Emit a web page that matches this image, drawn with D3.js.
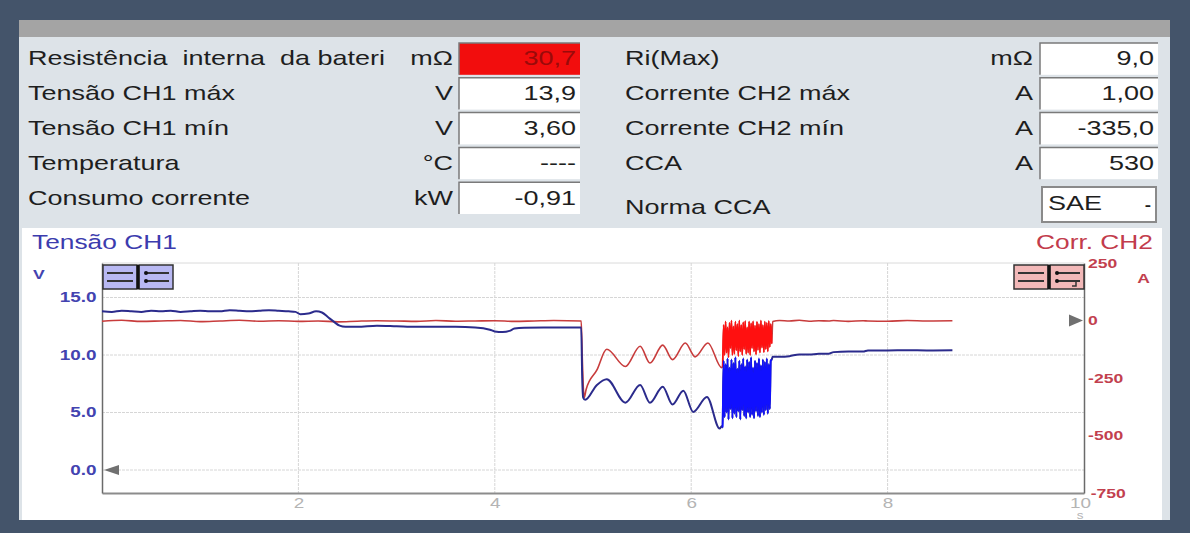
<!DOCTYPE html>
<html>
<head>
<meta charset="utf-8">
<script src="https://cdn.jsdelivr.net/npm/d3@7"></script>
<style>
  body { margin: 0; background: #44546a; }
  svg { display: block; font-family: "Liberation Sans", Arial, sans-serif; }
  text { white-space: pre; }
</style>
</head>
<body>
<div class="scope"></div>
<script>
// info panel
var leftLabels = ["Resistência  interna  da bateri", "Tensão CH1 máx", "Tensão CH1 mín", "Temperatura", "Consumo corrente"];
var leftUnits = ["mΩ", "V", "V", "°C", "kW"];
var leftValues = ["30,7", "13,9", "3,60", "----", "-0,91"];
var rightLabels = ["Ri(Max)", "Corrente CH2 máx", "Corrente CH2 mín", "CCA", "Norma CCA"];
var rightUnits = ["mΩ", "A", "A", "A", ""];
var rightValues = ["9,0", "1,00", "-335,0", "530", "SAE"];

// axes
var timeTicks = [2, 4, 6, 8, 10];
var voltTicks = [0, 5, 10, 15];
var currTicks = [-750, -500, -250, 0, 250];

// CH1 voltage (V) before the burst
var blueT = [0, 0.1, 0.2, 0.3, 0.4, 0.5, 0.6, 0.7, 0.8, 0.9, 1.0, 1.1, 1.2, 1.3, 1.4, 1.5, 1.6, 1.7, 1.8, 1.9,
  1.97, 2.02, 2.1, 2.18, 2.24, 2.3, 2.36, 2.42, 2.48, 2.6, 2.8, 3.0, 3.2, 3.4, 3.6, 3.8,
  3.95, 4.0, 4.08, 4.15, 4.2, 4.3, 4.5, 4.7, 4.88, 4.89, 4.9, 4.92, 5.04, 5.14,
  5.33, 5.48, 5.58, 5.71, 5.81, 5.92, 6.02, 6.16, 6.29, 6.31];
var blueV = [13.8, 13.75, 13.85, 13.8, 13.75, 13.85, 13.8, 13.85, 13.75, 13.8, 13.85, 13.8, 13.8, 13.9, 13.85, 13.8, 13.85, 13.9, 13.85, 13.8,
  13.75, 13.55, 13.6, 13.8, 13.7, 13.3, 12.9, 12.55, 12.45, 12.45, 12.55, 12.5, 12.45, 12.45, 12.45, 12.4,
  12.2, 12.05, 12.0, 12.1, 12.3, 12.38, 12.4, 12.4, 12.4, 8.0, 6.3, 6.1, 7.4, 7.9,
  5.85, 7.4, 5.85, 7.25, 5.7, 6.9, 5.05, 6.35, 3.6, 3.8];

// CH2 current (A) before the burst
var redT = [0, 0.2, 0.4, 0.6, 0.8, 1.0, 1.2, 1.4, 1.6, 1.8, 2.0, 2.2, 2.4, 2.6, 2.8, 3.0, 3.2, 3.4, 3.6, 3.8, 4.0, 4.2, 4.4, 4.6,
  4.88, 4.89, 4.90, 4.91, 4.93, 5.04, 5.14, 5.33, 5.48, 5.58, 5.71,
  5.81, 5.94, 6.04, 6.17, 6.31];
var redA = [-3, 1, -4, -2, 0, -5, -2, 1, -3, -1, -4, -2, -6, -3, -1, -2, -4, 0, -3, -2, -1, -4, -2, 0,
  -2, -150, -280, -335, -300, -215, -125, -200, -112, -185, -107,
  -170, -98, -158, -98, -205];

// fast oscillation burst
var burstT = [6.32, 6.33, 6.34, 6.35, 6.36, 6.37, 6.38, 6.39, 6.40, 6.41, 6.42, 6.43, 6.44, 6.45, 6.46, 6.47, 6.48,
  6.49, 6.50, 6.51, 6.52, 6.53, 6.54, 6.55, 6.56, 6.57, 6.58, 6.59, 6.60, 6.61, 6.62, 6.63, 6.64, 6.65,
  6.66, 6.67, 6.68, 6.69, 6.70, 6.71, 6.72, 6.73, 6.74, 6.75, 6.76, 6.77, 6.78, 6.79, 6.80, 6.81, 6.82];
var burstV = [3.7, 9.5, 4.6, 9.2, 5.0, 9.7, 4.4, 8.9, 5.3, 9.6, 4.5, 9.3, 4.9, 9.8, 4.6, 8.8, 5.1,
  9.5, 4.4, 9.2, 5.2, 9.7, 4.7, 9.0, 4.5, 9.6, 5.0, 9.4, 4.6, 9.8, 4.8, 8.9, 4.5, 9.5,
  5.1, 9.3, 4.7, 9.7, 4.6, 9.1, 5.0, 9.6, 4.8, 9.4, 5.2, 9.7, 4.9, 9.2, 5.3, 9.5, 9.6];
var burstA = [-200, -20, -150, -5, -140, -30, -160, -10, -120, 0, -150, -25, -145, -5, -130, -15, -155,
  0, -135, -20, -150, -8, -125, -2, -145, -30, -140, -5, -150, -12, -120, -3, -135, -22,
  -148, -6, -128, -15, -140, 0, -118, -20, -138, -5, -125, -10, -135, -2, -115, -15, -100];

// after the burst
var postT = [6.83, 6.9, 7.0, 7.1, 7.2, 7.3, 7.4, 7.45, 7.6, 7.75, 7.8, 8.0, 8.2, 8.4, 8.66];
var postV = [9.85, 9.85, 9.9, 10.05, 10.05, 10.1, 10.1, 10.25, 10.3, 10.3, 10.4, 10.4, 10.42, 10.4, 10.42];
var postA = [-4, 0, -2, 1, -3, -1, -2, 0, -4, -1, -2, -3, 0, -2, -1];

function init() {
  var w = 1190;
  var h = 533;
  var sx = 1.35; // screenshot is stretched horizontally

  var svg = d3.select(".scope")
    .append("svg")
    .attr("width", w)
    .attr("height", h);

  function label(g, x, y, str, anchor, size, color, weight) {
    return g.append("text")
      .attr("transform", "translate(" + x + "," + y + ") scale(" + sx + ",1)")
      .attr("text-anchor", anchor)
      .attr("font-size", size + "px")
      .attr("font-weight", weight || "normal")
      .attr("fill", color)
      .text(str);
  }

  // frame
  svg.append("rect").attr("width", w).attr("height", h).attr("fill", "#44546a");
  svg.append("rect").attr("x", 19).attr("y", 20).attr("width", 1151).attr("height", 500).attr("fill", "#dde3e8");
  svg.append("rect").attr("x", 19).attr("y", 20).attr("width", 1151).attr("height", 17).attr("fill", "#a4a4a4");
  svg.append("rect").attr("x", 22).attr("y", 228).attr("width", 1140).attr("height", 292).attr("fill", "#ffffff");

  // info rows
  var rowScale = d3.scaleBand()
    .domain(d3.range(5))
    .range([42, 216]);
  var step = rowScale.step();

  function valueBox(g, x, y, bw, bh, fill) {
    g.append("rect").attr("x", x).attr("y", y).attr("width", bw).attr("height", bh)
      .attr("fill", fill);
    g.append("path")
      .attr("d", "M" + x + "," + (y + bh) + "V" + y + "H" + (x + bw))
      .attr("fill", "none").attr("stroke", "#7a7a7a").attr("stroke-width", 1.5);
  }

  var info = svg.append("g");
  leftLabels.forEach(function(d, i) {
    var y0 = rowScale(i);
    var base = y0 + step / 2 + 6;
    label(info, 28, base, d, "start", 20, "#1e1e1e");
    label(info, 453, base, leftUnits[i], "end", 20, "#1e1e1e");
    var red = i === 0;
    valueBox(info, 459, y0 + 1, 121, step - 3, red ? "#f20d0d" : "#ffffff");
    label(info, 576, base, leftValues[i], "end", 20, red ? "#9a0a0a" : "#1e1e1e");
  });

  rightLabels.forEach(function(d, i) {
    var y0 = rowScale(i);
    var base = y0 + step / 2 + 6;
    if (rightUnits[i] === "") {
      // dropdown
      label(info, 625, 214, d, "start", 20, "#1e1e1e");
      info.append("rect").attr("x", 1042).attr("y", 187).attr("width", 114).attr("height", 35)
        .attr("fill", "#ffffff").attr("stroke", "#8a8a8a").attr("stroke-width", 2);
      label(info, 1048, 210, rightValues[i], "start", 20, "#1e1e1e");
      label(info, 1148, 210, "-", "middle", 14, "#1e1e1e", "bold");
      return;
    }
    label(info, 625, base, d, "start", 20, "#1e1e1e");
    label(info, 1033, base, rightUnits[i], "end", 20, "#1e1e1e");
    valueBox(info, 1040, y0 + 1, 118, step - 3, "#ffffff");
    label(info, 1154, base, rightValues[i], "end", 20, "#1e1e1e");
  });

  // chart
  var xScale = d3.scaleLinear().domain([0, 10]).range([102, 1084]);
  var yLeft = d3.scaleLinear().domain([-2, 18]).range([493, 263]);
  var yRight = d3.scaleLinear().domain([-750, 250]).range([493, 263]);

  var blueColor = "#4343b0";
  var redColor = "#c2404e";

  label(svg, 32, 249, "Tensão CH1", "start", 19.5, "#3c3cae");
  label(svg, 1153, 249, "Corr. CH2", "end", 19.5, "#c23c4c");
  label(svg, 33, 279, "V", "start", 13, blueColor, "bold");
  label(svg, 1150, 283, "A", "end", 13, redColor, "bold");

  // grid
  var grid = svg.append("g");
  grid.append("line").attr("x1", 102).attr("x2", 1084).attr("y1", 263).attr("y2", 263)
    .attr("stroke", "#dadada");
  grid.selectAll(".hg")
    .data(voltTicks)
    .enter()
    .append("line")
    .attr("x1", 102).attr("x2", 1084)
    .attr("y1", function(d) { return yLeft(d); })
    .attr("y2", function(d) { return yLeft(d); })
    .attr("stroke", "#d6d6d6")
    .attr("stroke-dasharray", "3,1");
  grid.selectAll(".vg")
    .data(timeTicks.slice(0, 4))
    .enter()
    .append("line")
    .attr("x1", function(d) { return xScale(d); })
    .attr("x2", function(d) { return xScale(d); })
    .attr("y1", 263).attr("y2", 493)
    .attr("stroke", "#d6d6d6")
    .attr("stroke-dasharray", "3,1");

  // axes
  var xAxis = svg.append("g")
    .attr("transform", "translate(0,493)")
    .call(d3.axisBottom(xScale).tickValues(timeTicks).tickSize(0).tickPadding(5));
  xAxis.select(".domain").attr("stroke", "#8c8c8c").attr("stroke-width", 2);
  xAxis.selectAll("text").attr("fill", "#b4b4b4").attr("font-size", "14px")
    .attr("font-family", "Liberation Sans, Arial, sans-serif")
    .attr("transform", "scale(" + sx + ",1)")
    .attr("x", function(d) { return d === 10 ? -3 : 0; });
  label(svg, 1080, 519, "s", "middle", 10, "#b4b4b4");

  var leftAxis = svg.append("g")
    .attr("transform", "translate(102,0)")
    .call(d3.axisLeft(yLeft).tickValues(voltTicks).tickSize(0).tickPadding(4).tickFormat(d3.format(".1f")));
  leftAxis.select(".domain").attr("stroke", "#6a6a6a").attr("stroke-width", 1.5);
  leftAxis.selectAll("text").attr("fill", blueColor).attr("font-size", "14px").attr("font-weight", "bold")
    .attr("font-family", "Liberation Sans, Arial, sans-serif")
    .attr("transform", "scale(" + sx + ",1)")
    .attr("x", -4);

  var rightAxis = svg.append("g")
    .attr("transform", "translate(1084,0)")
    .call(d3.axisRight(yRight).tickValues(currTicks).tickSize(0).tickPadding(4)
      .tickFormat(function(d) { return String(d); }));
  rightAxis.select(".domain").attr("stroke", "#6a6a6a").attr("stroke-width", 1.5);
  rightAxis.selectAll("text").attr("fill", redColor).attr("font-size", "13px").attr("font-weight", "bold")
    .attr("font-family", "Liberation Sans, Arial, sans-serif")
    .attr("transform", "scale(" + sx + ",1)")
    .attr("x", function(d) { return d === -750 ? 5 : 3; });

  // zero markers
  svg.append("path")
    .attr("d", "M" + 104 + "," + yLeft(0) + "L119," + (yLeft(0) - 5) + "V" + (yLeft(0) + 5) + "Z")
    .attr("fill", "#707070");
  svg.append("path")
    .attr("d", "M" + 1083 + "," + yRight(0) + "L1069," + (yRight(0) - 6) + "V" + (yRight(0) + 6) + "Z")
    .attr("fill", "#707070");

  // traces
  var voltLine = d3.line()
    .curve(d3.curveMonotoneX)
    .x(function(d) { return xScale(d[0]); })
    .y(function(d) { return yLeft(d[1]); });
  var currLine = d3.line()
    .curve(d3.curveMonotoneX)
    .x(function(d) { return xScale(d[0]); })
    .y(function(d) { return yRight(d[1]); });

  var redAll = d3.zip(redT, redA).concat(d3.zip(burstT, burstA), d3.zip(postT, postA));
  var blueAll = d3.zip(blueT, blueV).concat(d3.zip(burstT, burstV), d3.zip(postT, postV));

  svg.append("path").datum(redAll)
    .attr("d", currLine)
    .attr("fill", "none").attr("stroke", "#c83c3c").attr("stroke-width", 1.6);
  svg.append("path").datum(blueAll)
    .attr("d", voltLine)
    .attr("fill", "none").attr("stroke", "#2b2b8c").attr("stroke-width", 2);

  svg.append("path").datum(d3.zip(burstT, burstA))
    .attr("d", currLine)
    .attr("fill", "none").attr("stroke", "#ff1010").attr("stroke-width", 1.6);
  svg.append("path").datum(d3.zip(burstT, burstV))
    .attr("d", voltLine)
    .attr("fill", "none").attr("stroke", "#1010ff").attr("stroke-width", 1.8);

  // channel buttons
  function button(x0, fill, hook) {
    var g = svg.append("g");
    g.append("rect").attr("x", x0).attr("y", 265).attr("width", 34).attr("height", 24)
      .attr("fill", fill).attr("stroke", "#333").attr("stroke-width", 1.5);
    g.append("rect").attr("x", x0 + 36).attr("y", 265).attr("width", 34).attr("height", 24)
      .attr("fill", fill).attr("stroke", "#333").attr("stroke-width", 1.5);
    g.append("line").attr("x1", x0 + 35).attr("x2", x0 + 35).attr("y1", 265).attr("y2", 289)
      .attr("stroke", "#111").attr("stroke-width", 3);
    [273, 281].forEach(function(yy) {
      g.append("line").attr("x1", x0 + 4).attr("x2", x0 + 30).attr("y1", yy).attr("y2", yy)
        .attr("stroke", "#333").attr("stroke-width", 2);
      g.append("line").attr("x1", x0 + 42).attr("x2", x0 + 66).attr("y1", yy).attr("y2", yy)
        .attr("stroke", "#333").attr("stroke-width", 2);
      g.append("circle").attr("cx", x0 + 43).attr("cy", yy).attr("r", 2).attr("fill", "#111");
    });
    if (hook) {
      g.append("path").attr("d", "M" + (x0 + 62) + ",281V286H" + (x0 + 58))
        .attr("fill", "none").attr("stroke", "#333").attr("stroke-width", 1.5);
    }
  }
  button(103, "#b8b8f2", false);
  button(1014, "#f2b8b8", true);
}

window.onload = init;
</script>
</body>
</html>
